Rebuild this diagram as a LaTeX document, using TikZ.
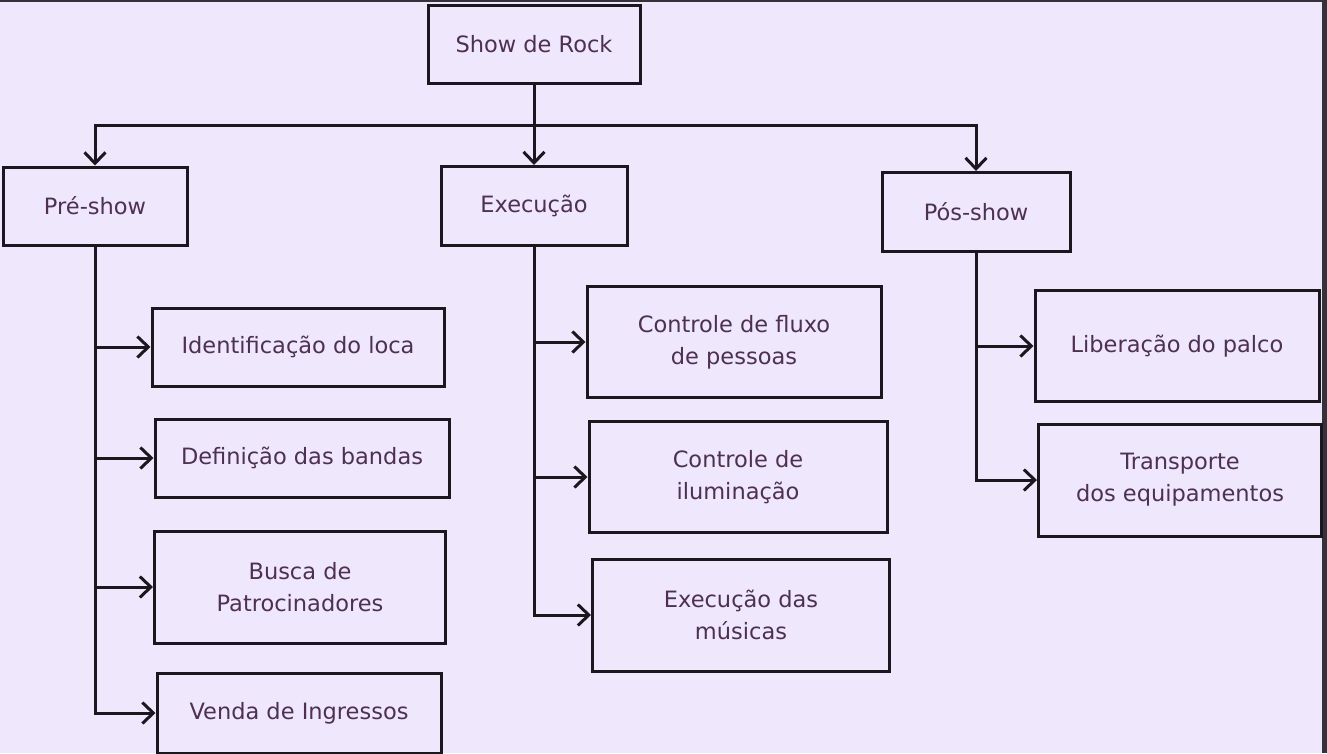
\documentclass[tikz,border=0pt]{standalone}
\usepackage{fontspec}
\setmainfont{DejaVu Sans}
\usetikzlibrary{arrows.meta}
\definecolor{bgcol}{RGB}{239,231,252}
\definecolor{boxline}{RGB}{28,22,30}
\definecolor{txtcol}{RGB}{78,48,82}
\definecolor{rim}{RGB}{52,50,58}
\tikzset{
  blk/.style={draw=boxline,line width=3pt,fill=bgcol,text=txtcol,
    font=\fontsize{22.5}{32}\selectfont,align=center,inner sep=0pt},
  conn/.style={draw=boxline,line width=3pt,
    -{Straight Barb[length=11pt,width=21pt,line width=3pt]}}
}
\begin{document}
\begin{tikzpicture}[x=1pt,y=-1pt]
  \fill[bgcol] (0,0) rectangle (1327,753);
  \useasboundingbox (0,0) rectangle (1327,753);
  \fill[rim] (0,0) rectangle (1327,2);
  \fill[rim] (1322,0) rectangle (1327,753);

  % top level
  \node[blk,minimum width=212pt,minimum height=78pt] (root) at (534,44) {Show de Rock};
  \node[blk,minimum width=184pt,minimum height=78pt] (pre) at (95,206) {Pré-show};
  \node[blk,minimum width=186pt,minimum height=79pt] (exe) at (534,206) {Execução};
  \node[blk,minimum width=188pt,minimum height=79pt] (pos) at (976,212) {Pós-show};

  % pre-show
  \node[blk,minimum width=292pt,minimum height=78pt] (ident) at (298,347) {Identificação do loca};
  \node[blk,minimum width=294pt,minimum height=78pt] (defi) at (302,458) {Definição das bandas};
  \node[blk,minimum width=291pt,minimum height=112pt] (busca) at (300,587) {Busca de\\Patrocinadores};
  \node[blk,minimum width=284pt,minimum height=80pt] (venda) at (299,713) {Venda de Ingressos};

  % execucao
  \node[blk,minimum width=294pt,minimum height=111pt] (fluxo) at (734,342) {Controle de fluxo\\de pessoas};
  \node[blk,minimum width=298pt,minimum height=111pt] (ilum) at (738,477) {Controle de\\iluminação};
  \node[blk,minimum width=297pt,minimum height=112pt] (musc) at (741,615) {Execução das\\músicas};

  % pos-show
  \node[blk,minimum width=284pt,minimum height=111pt] (lib) at (1177,346) {Liberação do palco};
  \node[blk,minimum width=283pt,minimum height=112pt] (transp) at (1180,480) {Transporte\\dos equipamentos};

  \coordinate (bus) at (534,125);
  \draw[conn] (root.south) -- (exe.north);
  \draw[conn] (bus) -| (pre.north);
  \draw[conn] (bus) -| (pos.north);

  \foreach \b in {ident,defi,busca,venda}
    \draw[conn] (pre.south) |- (\b.west);
  \foreach \b in {fluxo,ilum,musc}
    \draw[conn] (exe.south) |- (\b.west);
  \foreach \b in {lib,transp}
    \draw[conn] (pos.south) |- (\b.west);
\end{tikzpicture}
\end{document}
